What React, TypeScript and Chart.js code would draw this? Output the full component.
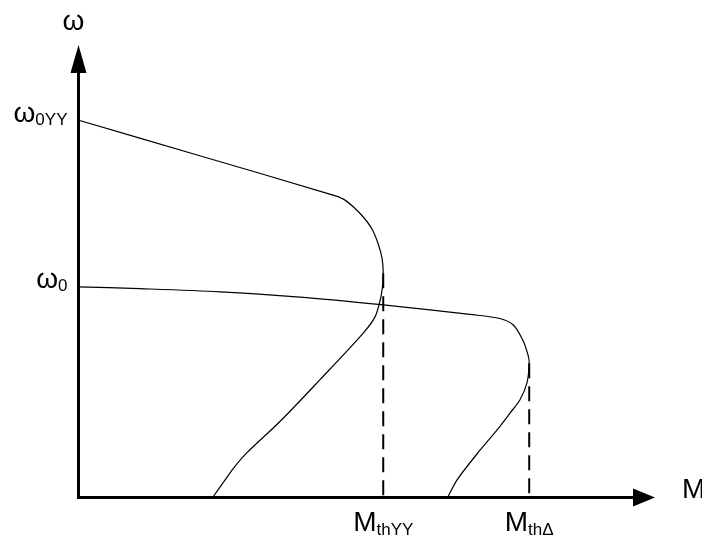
import React, { useEffect, useRef } from "react";
import { Chart, registerables } from "chart.js";

Chart.register(...registerables);

// Mechanical characteristics ω = f(M) of a two-speed motor, in plot units (0–100 on both axes).
// Double-star (YY) connection
const yyTorque = [0, 21.1, 44.2, 46.0, 47.7, 49.4, 50.9, 52.0, 52.7, 52.9, 52.7, 52.3, 51.5, 49.4, 41.9, 35.0, 29.2, 26.9, 25.5, 23.4];
const yySpeed = [83.4, 75.5, 66.8, 65.9, 64.2, 62.0, 59.4, 56.1, 52.8, 49.5, 45.8, 43.2, 39.9, 36.2, 25.9, 16.7, 9.7, 6.3, 3.8, 0];
// Delta (Δ) connection
const deltaTorque = [0, 10.7, 24.6, 38.5, 52.9, 61.0, 67.9, 73.1, 75.4, 77.1, 78.0, 78.2, 77.8, 76.6, 74.9, 72.6, 69.7, 65.7, 64.1];
const deltaSpeed = [46.5, 46.1, 45.4, 44.2, 42.5, 41.4, 40.4, 39.5, 38.1, 34.7, 31.4, 29.6, 25.2, 21.5, 18.6, 14.8, 10.4, 3.8, 0];

// Breakdown (maximum) torque points
const breakdownYY = { torque: 52.9, speed: 49.5 };
const breakdownDelta = { torque: 78.2, speed: 29.6 };

// Axis titles and marked values
const speedTitle = "ω";
const torqueTitle = "M";
const speedMarks = [
  { main: "ω", sub: "0YY", value: yySpeed[0] },
  { main: "ω", sub: "0", value: deltaSpeed[0] },
];
const torqueMarks = [
  { main: "M", sub: "thYY", value: breakdownYY.torque },
  { main: "M", sub: "thΔ", value: breakdownDelta.torque },
];

const MAIN_FONT = '28px "Liberation Sans", Arial, sans-serif';
const SUB_FONT = '17px "Liberation Sans", Arial, sans-serif';

function toPoints(xs: number[], ys: number[]) {
  return xs.map((x, i) => ({ x, y: ys[i] }));
}

function drawSubscripted(
  ctx: CanvasRenderingContext2D,
  main: string,
  sub: string,
  x: number,
  baseline: number,
  align: "left" | "right" | "center",
  subDrop: number
) {
  ctx.font = MAIN_FONT;
  const wMain = ctx.measureText(main).width;
  ctx.font = SUB_FONT;
  const wSub = ctx.measureText(sub).width;
  const total = wMain + wSub;
  const left = align === "left" ? x : align === "right" ? x - total : x - total / 2;
  ctx.textAlign = "left";
  ctx.textBaseline = "alphabetic";
  ctx.font = MAIN_FONT;
  ctx.fillText(main, left, baseline);
  ctx.font = SUB_FONT;
  ctx.fillText(sub, left + wMain, baseline + subDrop);
}

// Draws the arrowed axes and all labels on top of the curves
const diagramPlugin = {
  id: "diagram",
  afterDatasetsDraw(chart: any) {
    const { ctx } = chart;
    const xs = chart.scales.x;
    const ys = chart.scales.y;
    const x0 = Math.floor(xs.getPixelForValue(0)) + 0.5;
    const y0 = Math.floor(ys.getPixelForValue(0)) + 0.5;
    const xEnd = xs.getPixelForValue(xs.max);
    const yEnd = ys.getPixelForValue(ys.max);

    ctx.save();
    ctx.strokeStyle = "#000";
    ctx.fillStyle = "#000";
    ctx.lineWidth = 3;
    ctx.lineCap = "butt";

    // ω axis
    ctx.beginPath();
    ctx.moveTo(x0, y0 + 1.5);
    ctx.lineTo(x0, yEnd + 26);
    ctx.stroke();
    ctx.beginPath();
    ctx.moveTo(x0, yEnd);
    ctx.lineTo(x0 - 8, yEnd + 28);
    ctx.lineTo(x0 + 8, yEnd + 28);
    ctx.closePath();
    ctx.fill();

    // M axis
    ctx.beginPath();
    ctx.moveTo(x0 - 1.5, y0);
    ctx.lineTo(xEnd - 20, y0);
    ctx.stroke();
    ctx.beginPath();
    ctx.moveTo(xEnd, y0);
    ctx.lineTo(xEnd - 22, y0 - 9);
    ctx.lineTo(xEnd - 22, y0 + 9);
    ctx.closePath();
    ctx.fill();

    // Axis titles
    ctx.font = MAIN_FONT;
    ctx.textBaseline = "alphabetic";
    ctx.textAlign = "center";
    ctx.fillText(speedTitle, x0 - 5, yEnd - 15);
    ctx.textAlign = "left";
    ctx.fillText(torqueTitle, xEnd + 27, y0);

    // Speed marks left of the ω axis
    speedMarks.forEach((m) => {
      const py = ys.getPixelForValue(m.value);
      drawSubscripted(ctx, m.main, m.sub, x0 - 11, py + 1.5, "right", 3);
    });

    // Torque marks below the M axis
    torqueMarks.forEach((m) => {
      const px = xs.getPixelForValue(m.value);
      drawSubscripted(ctx, m.main, m.sub, px, y0 + 33, "center", 4);
    });

    ctx.restore();
  },
};

export default function App() {
  const canvasRef = useRef<HTMLCanvasElement | null>(null);

  useEffect(() => {
    const canvas = canvasRef.current;
    if (!canvas) return;

    const curveStyle = {
      showLine: true,
      borderColor: "#000",
      borderWidth: 1.2,
      pointRadius: 0,
      fill: false,
      tension: 0.3,
      clip: false as const,
    };
    const dashStyle = {
      showLine: true,
      borderColor: "#000",
      borderWidth: 2,
      borderDash: [15, 8],
      pointRadius: 0,
      fill: false,
      tension: 0,
      clip: false as const,
    };

    const chart = new Chart(canvas, {
      type: "scatter",
      data: {
        datasets: [
          { label: "YY", data: toPoints(yyTorque, yySpeed), ...curveStyle },
          { label: "Δ", data: toPoints(deltaTorque, deltaSpeed), ...curveStyle },
          {
            label: "MthYY",
            data: [
              { x: breakdownYY.torque, y: breakdownYY.speed },
              { x: breakdownYY.torque, y: 0 },
            ],
            ...dashStyle,
          },
          {
            label: "MthΔ",
            data: [
              { x: breakdownDelta.torque, y: breakdownDelta.speed },
              { x: breakdownDelta.torque, y: 0 },
            ],
            ...dashStyle,
          },
        ],
      },
      options: {
        animation: false,
        responsive: false,
        events: [],
        layout: { padding: { left: 78, right: 47, top: 45, bottom: 40 } },
        plugins: {
          legend: { display: false },
          tooltip: { enabled: false },
        },
        scales: {
          x: { type: "linear", min: 0, max: 100, display: false },
          y: { type: "linear", min: 0, max: 100, display: false },
        },
      },
      plugins: [diagramPlugin],
    });

    return () => chart.destroy();
  }, []);

  return (
    <div
      style={{
        position: "fixed",
        left: 0,
        top: 0,
        width: 702,
        height: 537,
        background: "#fff",
      }}
    >
      <canvas ref={canvasRef} width={702} height={537} style={{ display: "block" }} />
    </div>
  );
}
